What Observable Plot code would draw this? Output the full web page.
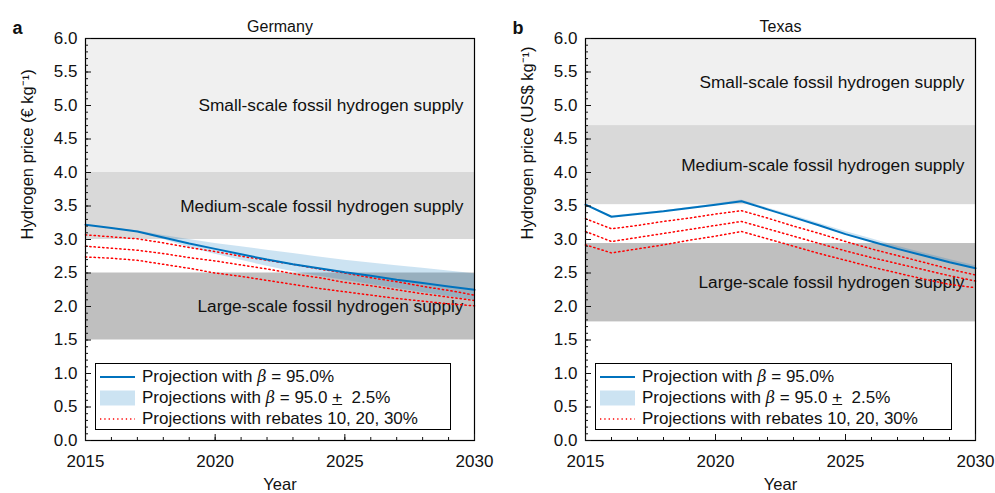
<!DOCTYPE html>
<html>
<head>
<meta charset="utf-8">
<script src="https://cdn.jsdelivr.net/npm/d3@7"></script>
<script src="https://cdn.jsdelivr.net/npm/@observablehq/plot@0.6"></script>
<style>
  body { margin: 0; background: #fff; font-family: "Liberation Sans", Arial, Helvetica, sans-serif; }
  #wrap { display: flex; width: 995px; height: 493px; }
  .panel { position: relative; }
  .legend { position: absolute; box-sizing: border-box; border: 1px solid #000; background: #fff;
            font-size: 17px; color: #111; padding: 2px 0 0 4px; }
  .row { display: flex; align-items: center; height: 21px; white-space: nowrap; }
  .row svg { flex: none; margin-right: 7px; }
  .row i { font-family: "DejaVu Serif", serif; font-style: italic; font-size: 16px; }
</style>
</head>
<body>
<div id="wrap"></div>
<script>
// ---------- data ----------
const years = [2015, 2016, 2017, 2018, 2019, 2020, 2021, 2022, 2023, 2024, 2025, 2026, 2027, 2028, 2029, 2030];

// Germany (€ per kg)
const germanyCentral  = [3.22, 3.17, 3.12, 3.03, 2.94, 2.86, 2.78, 2.70, 2.63, 2.57, 2.51, 2.46, 2.40, 2.35, 2.30, 2.25];
const germanyLow      = [3.22, 3.17, 3.11, 3.00, 2.88, 2.78, 2.69, 2.60, 2.52, 2.45, 2.39, 2.33, 2.27, 2.21, 2.15, 2.09];
const germanyHigh     = [3.22, 3.17, 3.13, 3.06, 3.00, 2.94, 2.89, 2.84, 2.79, 2.74, 2.69, 2.65, 2.61, 2.57, 2.53, 2.49];
const germanyRebate10 = [3.07, 3.04, 3.01, 2.95, 2.88, 2.82, 2.75, 2.69, 2.63, 2.56, 2.50, 2.43, 2.37, 2.30, 2.24, 2.17];
const germanyRebate20 = [2.90, 2.87, 2.84, 2.79, 2.73, 2.68, 2.62, 2.56, 2.49, 2.43, 2.36, 2.31, 2.25, 2.19, 2.14, 2.09];
const germanyRebate30 = [2.74, 2.72, 2.69, 2.63, 2.57, 2.50, 2.45, 2.39, 2.33, 2.27, 2.22, 2.17, 2.12, 2.08, 2.04, 2.01];

// Texas (US$ per kg)
const texasCentral  = [3.52, 3.34, 3.38, 3.42, 3.47, 3.52, 3.57, 3.45, 3.33, 3.21, 3.08, 2.97, 2.86, 2.76, 2.66, 2.57];
const texasLow      = [3.51, 3.33, 3.37, 3.41, 3.46, 3.51, 3.56, 3.44, 3.32, 3.20, 3.07, 2.96, 2.85, 2.75, 2.65, 2.56];
const texasHigh     = [3.53, 3.35, 3.39, 3.43, 3.48, 3.53, 3.59, 3.47, 3.36, 3.24, 3.12, 3.01, 2.90, 2.80, 2.70, 2.61];
const texasRebate10 = [3.31, 3.16, 3.21, 3.27, 3.32, 3.38, 3.43, 3.32, 3.20, 3.09, 2.97, 2.86, 2.76, 2.66, 2.56, 2.47];
const texasRebate20 = [3.12, 2.97, 3.03, 3.09, 3.15, 3.21, 3.27, 3.16, 3.05, 2.94, 2.83, 2.73, 2.64, 2.55, 2.46, 2.38];
const texasRebate30 = [2.92, 2.80, 2.86, 2.92, 2.99, 3.05, 3.12, 3.01, 2.90, 2.79, 2.69, 2.59, 2.50, 2.41, 2.33, 2.28];

// supply ranges (price bands)
const supplyNames    = ["Small-scale fossil hydrogen supply", "Medium-scale fossil hydrogen supply", "Large-scale fossil hydrogen supply"];
const germanySupplyLow  = [4.0, 3.0, 1.5];
const germanySupplyHigh = [6.0, 4.0, 2.5];
const texasSupplyLow    = [4.7, 3.52, 1.77];
const texasSupplyHigh   = [6.0, 4.7, 2.94];

const rebateNames = ["10%", "20%", "30%"];
const yTicks = [0, 0.5, 1, 1.5, 2, 2.5, 3, 3.5, 4, 4.5, 5, 5.5, 6];
const yMinorTicks = d3.range(0, 61).map(i => i / 10);
const xTicks = [2015, 2020, 2025, 2030];

const panelTitles = ["Germany", "Texas"];
const panelLetters = ["a", "b"];
const yLabels = ["Hydrogen price (€ kg⁻¹)", "Hydrogen price (US$ kg⁻¹)"];
const legendLabels = ["Projection with ", "Projections with ", "Projections with rebates 10, 20, 30%"];

// ---------- styling ----------
const FONT = '"Liberation Sans", Arial, Helvetica, sans-serif';
const bandFills = ["#f0f0f0", "#d9d9d9", "#bfbfbf"];
const BLUE = "#0072bd";
const RED = "#ff0000";

function makePanel(i, central, low, high, r10, r20, r30, sLow, sHigh, width, marginRight) {
  const series = years.map((yr, k) => ({year: yr, c: central[k], lo: low[k], hi: high[k]}));
  const rebates = [];
  [r10, r20, r30].forEach((arr, j) => years.forEach((yr, k) => rebates.push({year: yr, v: arr[k], r: rebateNames[j]})));
  const bands = supplyNames.map((n, k) => ({name: n, lo: sLow[k], hi: sHigh[k], k, mid: (sLow[k] + sHigh[k]) / 2}));

  const plot = Plot.plot({
    width, height: 493,
    marginLeft: 85, marginRight, marginTop: 38, marginBottom: 53,
    x: {domain: [2015, 2030]},
    y: {domain: [0, 6]},
    style: {fontFamily: FONT, fontSize: "17px", color: "#111", background: "#fff"},
    marks: [
      Plot.rect(bands, {y1: "lo", y2: "hi", fill: d => bandFills[d.k]}),
      Plot.text(bands, {y: "mid", text: "name", frameAnchor: "right", textAnchor: "end", dx: -11, fontSize: 17.3, fill: "#111"}),
      Plot.areaY(series, {x: "year", y1: "lo", y2: "hi", fill: BLUE, fillOpacity: 0.2}),
      Plot.lineY(rebates, {x: "year", y: "v", z: "r", stroke: RED, strokeWidth: 1.5, strokeDasharray: "1.3,3"}),
      Plot.lineY(series, {x: "year", y: "c", stroke: BLUE, strokeWidth: 2}),
      Plot.frame({stroke: "#000", strokeWidth: 1.2}),
      Plot.axisY({ticks: yMinorTicks, tickSize: -3, fill: "none", label: null}),
      Plot.axisY({ticks: yTicks, tickSize: -6, fill: "none", label: null}),
      Plot.axisY({ticks: yTicks, tickSize: 0, tickPadding: 8, tickFormat: ".1f", label: null, fontSize: 17}),
      Plot.axisX({ticks: years, tickSize: -3, fill: "none", label: null}),
      Plot.axisX({ticks: xTicks, tickSize: -6, fill: "none", label: null}),
      Plot.axisX({ticks: xTicks, tickSize: 0, tickPadding: 14, tickFormat: "d", label: null, fontSize: 17}),
      Plot.text([panelTitles[i]], {frameAnchor: "top", dy: -18, fontSize: 16, fill: "#111"}),
      Plot.text([panelLetters[i]], {frameAnchor: "top-left", textAnchor: "start", dx: -73, dy: -17, fontSize: 18, fontWeight: "bold", fill: "#111"}),
      Plot.text([yLabels[i]], {frameAnchor: "left", rotate: -90, dx: -58, fontSize: 16.5, fill: "#111"}),
      Plot.text(["Year"], {frameAnchor: "bottom", dy: 49, fontSize: 16.5, fill: "#111"})
    ]
  });

  const div = document.createElement("div");
  div.className = "panel";
  div.style.width = width + "px";
  div.appendChild(plot);

  const leg = document.createElement("div");
  leg.className = "legend";
  leg.style.left = "95px";
  leg.style.top = "363px";
  leg.style.width = (width - 95 - marginRight - 23) + "px";
  leg.style.height = "67px";
  leg.innerHTML = `
    <div class="row"><svg width="35" height="16"><line x1="0" x2="35" y1="8" y2="8" stroke="${BLUE}" stroke-width="2"/></svg><span>${legendLabels[0]}<i>β</i> = 95.0%</span></div>
    <div class="row"><svg width="35" height="16"><rect x="0" y="0.5" width="35" height="15" fill="${BLUE}" fill-opacity="0.2"/></svg><span>${legendLabels[1]}<i>β</i> = 95.0 <u>+</u>&nbsp; 2.5%</span></div>
    <div class="row"><svg width="35" height="16"><line x1="0" x2="35" y1="8" y2="8" stroke="${RED}" stroke-width="1.5" stroke-dasharray="1.3,3"/></svg><span>${legendLabels[2]}</span></div>`;
  div.appendChild(leg);
  return div;
}

const wrap = document.getElementById("wrap");
wrap.appendChild(makePanel(0, germanyCentral, germanyLow, germanyHigh, germanyRebate10, germanyRebate20, germanyRebate30, germanySupplyLow, germanySupplyHigh, 500, 26));
wrap.appendChild(makePanel(1, texasCentral, texasLow, texasHigh, texasRebate10, texasRebate20, texasRebate30, texasSupplyLow, texasSupplyHigh, 495, 20));
</script>
</body>
</html>
